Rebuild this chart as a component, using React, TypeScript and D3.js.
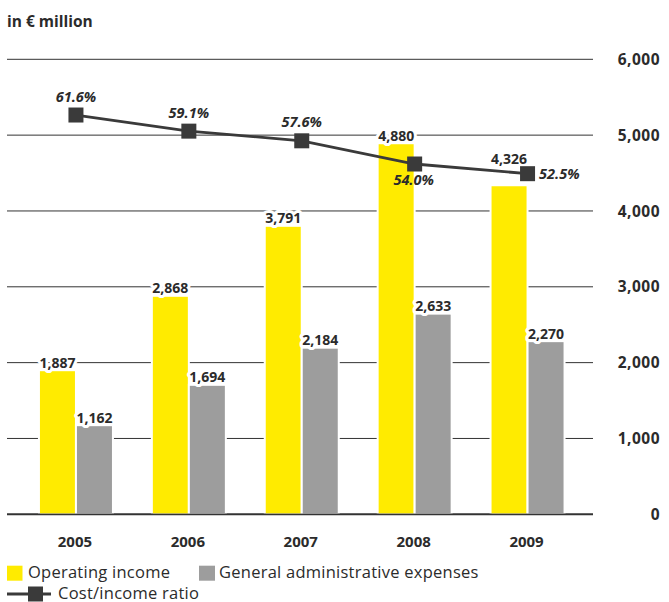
import * as d3 from 'd3';

const years = ['2005', '2006', '2007', '2008', '2009'];
const operatingIncome = [1887, 2868, 3791, 4880, 4326];
const adminExpenses = [1162, 1694, 2184, 2633, 2270];
const costIncomeRatio = [61.6, 59.1, 57.6, 54.0, 52.5];
const yTicks = [0, 1000, 2000, 3000, 4000, 5000, 6000];

// where the ratio label sits relative to its marker
const ratioLabelPlacement = ['above', 'above', 'above', 'below', 'right'];

const W = 669;
const H = 602;
const FONT = '"Open Sans", Lato, "DejaVu Sans", sans-serif';
const INK = '#2b2b2b';
const YELLOW = '#ffeb00';
const GREY = '#9d9d9d';
const LINE = '#3a3a3a';

const fmt = d3.format(',');

export default function App() {
  const y = d3.scaleLinear().domain([0, 6000]).range([514.3, 59.3]);
  const yRatio = d3.scaleLinear().domain([50, 65]).range([189.8, 93.1]);
  const x = d3.scaleBand().domain(years).range([19.5, 584]).padding(0);
  const inner = d3
    .scaleBand()
    .domain(['op', 'ga'])
    .range([-36, 36])
    .paddingInner(0.054);

  const cx = (yr: string) => (x(yr) ?? 0) + x.bandwidth() / 2;
  const bw = inner.bandwidth();

  const ratioLine = d3
    .line<number>()
    .x((_, i) => cx(years[i]))
    .y((d) => yRatio(d));

  const series = [
    { key: 'op', values: operatingIncome, color: YELLOW },
    { key: 'ga', values: adminExpenses, color: GREY },
  ];

  const halo = {
    stroke: '#fff',
    strokeWidth: 6,
    strokeLinejoin: 'round' as const,
    paintOrder: 'stroke' as const,
  };

  return (
    <svg
      width={W}
      height={H}
      style={{ position: 'absolute', left: 0, top: 0, background: '#fff' }}
      fontFamily={FONT}
    >
      <text x={7} y={27} fontSize={15.5} fontWeight={700} fill={INK}>
        in € million
      </text>

      {/* grid + right axis */}
      {yTicks.map((t) => (
        <g key={t}>
          <line
            x1={7}
            x2={593}
            y1={y(t)}
            y2={y(t)}
            stroke="#333"
            strokeWidth={t === 0 ? 2 : 1}
          />
          <text
            x={660}
            y={y(t)}
            dy="0.36em"
            textAnchor="end"
            fontSize={15.5}
            letterSpacing={0.5}
            fontWeight={700}
            fill={INK}
          >
            {fmt(t)}
          </text>
        </g>
      ))}

      {/* bars */}
      {series.map((s) =>
        s.values.map((v, i) => {
          const bx = cx(years[i]) + (inner(s.key) ?? 0);
          return (
            <g key={s.key + i}>
              <rect
                x={bx - 2}
                y={y(v) - 2}
                width={bw + 4}
                height={y(0) - y(v) + 1}
                fill="#fff"
              />
              <rect
                x={bx}
                y={y(v)}
                width={bw}
                height={y(0) - y(v) - 1}
                fill={s.color}
              />
            </g>
          );
        })
      )}

      {/* bar value labels */}
      {series.map((s) =>
        s.values.map((v, i) => {
          const lx = cx(years[i]) + (inner(s.key) ?? 0) + bw / 2;
          let base = y(v) - 3.5;
          const my = yRatio(costIncomeRatio[i]);
          if (base - 11 < my + 9 && base > my - 10) base = my - 10;
          return (
            <text
              key={'l' + s.key + i}
              x={lx}
              y={base}
              textAnchor="middle"
              fontSize={14}
              fontWeight={700}
              fill={INK}
              {...halo}
            >
              {fmt(v)}
            </text>
          );
        })
      )}

      {/* cost/income ratio */}
      <path
        d={ratioLine(costIncomeRatio) ?? ''}
        fill="none"
        stroke={LINE}
        strokeWidth={2.8}
      />
      {costIncomeRatio.map((r, i) => {
        const mx = cx(years[i]);
        const my = yRatio(r);
        const place = ratioLabelPlacement[i];
        let lx = mx;
        let ly = my - 13.5;
        let anchor = 'middle';
        if (place === 'below') {
          lx = mx - 1;
          ly = my + 21;
        } else if (place === 'right') {
          lx = mx + 11.5;
          ly = my + 5.6;
          anchor = 'start';
        }
        return (
          <g key={'r' + i}>
            <rect x={mx - 7.5} y={my - 7.5} width={15} height={15} fill={LINE} />
            <text
              x={lx}
              y={ly}
              textAnchor={anchor}
              fontSize={14.5}
              fontWeight={700}
              fontStyle="italic"
              fill={INK}
            >
              {r.toFixed(1)}%
            </text>
          </g>
        );
      })}

      {/* year labels */}
      {years.map((yr) => (
        <text
          key={yr}
          x={cx(yr) - 1}
          y={541.7}
          dy="0.36em"
          textAnchor="middle"
          fontSize={15}
          fontWeight={700}
          fill={INK}
        >
          {yr}
        </text>
      ))}

      {/* legend */}
      <rect x={7} y={565.7} width={15.5} height={15} fill={YELLOW} />
      <text x={28} y={577.5} fontSize={16.5} letterSpacing={0.25} fill={INK}>
        Operating income
      </text>
      <rect x={199} y={565.7} width={16} height={15} fill={GREY} />
      <text x={219} y={577.5} fontSize={16.5} letterSpacing={0.25} fill={INK}>
        General administrative expenses
      </text>
      <line x1={7} x2={51} y1={594} y2={594} stroke={LINE} strokeWidth={2.8} />
      <rect x={28} y={586.5} width={15} height={15} fill={LINE} />
      <text x={58} y={598.5} fontSize={16.5} letterSpacing={0.25} fill={INK}>
        Cost/income ratio
      </text>
    </svg>
  );
}
